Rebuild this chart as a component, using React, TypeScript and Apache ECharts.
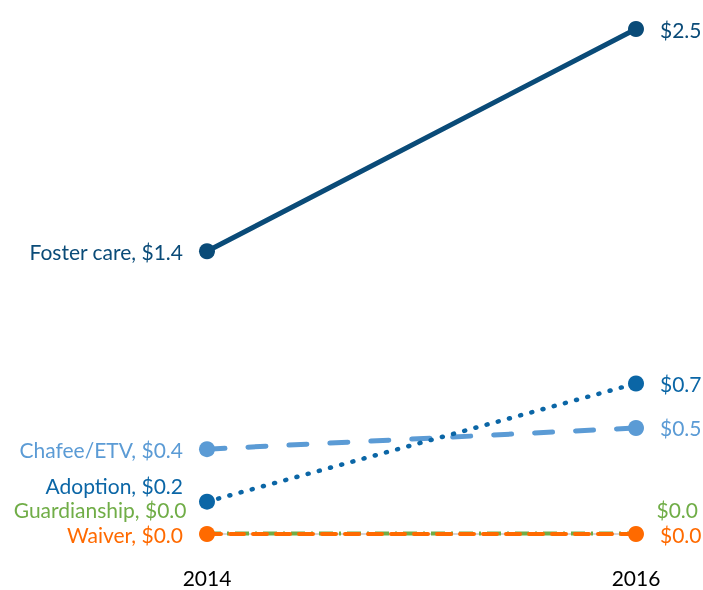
import React, { useEffect, useRef } from "react";
import * as echarts from "echarts";

const years = ["2014", "2016"];
const fosterCare = [1.4, 2.5];
const adoption = [0.16, 0.745];
const chafee = [0.42, 0.525];
const guardianship = [0.003, 0.003];
const waiver = [0.0, 0.0];

const fmt = (v: number) => "$" + (Math.round(v * 10) / 10).toFixed(1);

export default function App() {
  const ref = useRef<HTMLDivElement>(null);
  useEffect(() => {
    if (!ref.current) return;
    const chart = echarts.init(ref.current, undefined, { renderer: "svg" });
    const font = "Lato";
    const mk = (
      name: string,
      vals: number[],
      color: string,
      lineType: any,
      width: number,
      leftOffsetY: number,
      rightOffsetY: number,
      z: number,
      cap: string,
      symbolSize: number
    ) => ({
      type: "line",
      name,
      z,
      symbol: "circle",
      symbolSize,
      itemStyle: { color },
      lineStyle: { color, width, type: lineType, cap },
      data: vals.map((v, i) => ({
        value: v,
        label: {
          show: true,
          position: i === 0 ? "left" : "right",
          distance: 16,
          offset: [0, i === 0 ? leftOffsetY : rightOffsetY],
          formatter: () => (i === 0 ? `${name}, ${fmt(v)}` : fmt(v)),
          color,
          fontFamily: font,
          fontSize: 21,
        },
      })),
    });
    chart.setOption({
      animation: false,
      grid: { left: 207, right: 67, top: 29, bottom: 56 },
      xAxis: {
        type: "category",
        data: years,
        boundaryGap: false,
        axisLine: { show: true, lineStyle: { color: "#d4d4d4", width: 2 } },
        axisTick: { show: false },
        axisLabel: { color: "#000", fontFamily: font, fontSize: 21, margin: 33 },
      },
      yAxis: {
        type: "value",
        min: 0,
        max: 2.5,
        show: false,
        splitLine: { show: false },
      },
      series: [
        mk("Foster care", fosterCare, "#0a4b78", "solid", 5, 0, 0, 5, "round", 16),
        mk("Adoption", adoption, "#0b66a6", [1, 10.6], 4.5, -16, 0, 4, "round", 16),
        mk("Chafee/ETV", chafee, "#5b9bd5", [18, 23], 5, 0, 0, 3, "round", 16),
        mk("Guardianship", guardianship, "#70ad47", [14, 6, 2, 6], 4, -24, -24, 2, "butt", 9),
        mk("Waiver", waiver, "#ff6a00", [14, 9], 4, 0, 0, 6, "round", 16),
      ],
    });
    return () => chart.dispose();
  }, []);
  return (
    <div
      ref={ref}
      style={{ position: "fixed", left: 0, top: 0, width: 703, height: 590 }}
    />
  );
}
